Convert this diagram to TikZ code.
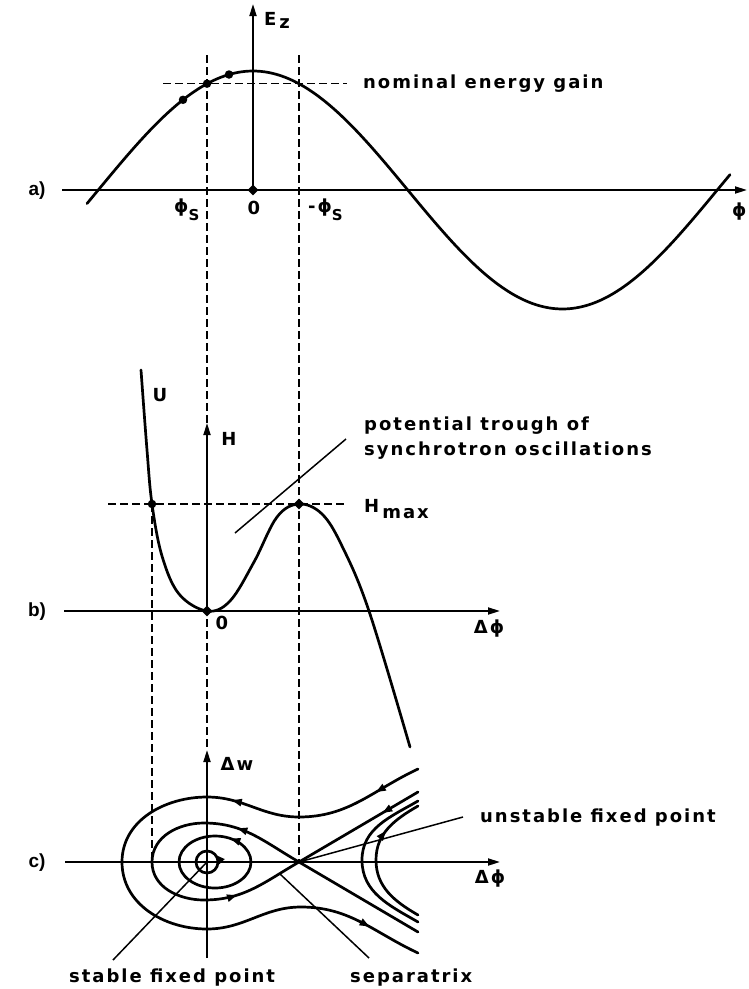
\documentclass[tikz,border=0pt]{standalone}
\usepackage{fontspec}
\setmainfont{DejaVu Sans}
\newfontfamily\lab{DejaVu Sans}[LetterSpace=11]
\newfontfamily\panfont{Liberation Sans}
\usetikzlibrary{arrows.meta,decorations.markings,shapes.geometric}
\begin{document}
\begin{tikzpicture}[x=1pt,y=1pt,
 curve/.style={line width=2.7pt,line cap=round,line join=round},
 axis/.style={line width=1.8pt,-{Triangle[length=12pt,width=7pt]}},
 guide/.style={line width=1.2pt,dash pattern=on 8pt off 4pt},
 leader/.style={line width=1.5pt},
 lbl/.style={font=\lab\bfseries\fontsize{18}{23}\selectfont,inner sep=0pt},
 sym/.style={font=\lab\bfseries\fontsize{18}{21}\selectfont,inner sep=0pt},
 panel/.style={font=\panfont\bfseries\fontsize{19}{19}\selectfont,inner sep=0pt},
 dot/.style={circle,fill,inner sep=0pt,minimum size=8.5pt},
 dia/.style={diamond,fill,inner sep=0pt,minimum size=11pt},
 flowarr/.style={postaction={decorate,decoration={markings,mark=at position #1 with {\arrow{Triangle[length=10pt,width=7pt]}}}}}
]
\fill[white] (0,0) rectangle (748,-989);
\useasboundingbox (0,0) rectangle (748,-989);

% ---------- guides ----------
\coordinate (gLt) at (207,-55);  \coordinate (gLb) at (207,-750);
\coordinate (gRt) at (299,-55);  \coordinate (gRb) at (299,-862);
\draw[guide] (gLt) -- (gLb);
\draw[guide] (gRt) -- (gRb);

% ---------- panel a ----------
\coordinate (aL) at (62,-190); \coordinate (aR) at (747,-190);
\coordinate (aB) at (253,-190); \coordinate (aT) at (253,-4);
\draw[axis] (aL) -- (aR);
\draw[axis] (aB) -- (aT);
\coordinate (nomL) at (163,-83.7); \coordinate (nomR) at (347,-83.7);
\draw[guide] (nomL) -- (nomR);
\draw[curve] plot[domain=87:730,samples=160] (\x,{-190+119*cos((\x-253)/309.5*180)});
\node[dot] (d1) at (183,-99.8) {};
\node[dot] (d2) at (207,-83.7) {};
\node[dot] (d3) at (229,-74.5) {};
\node[dia] (aO) at (253,-190) {};
\node[sym,anchor=base west] (ez) at (264,-25) {E\,\raisebox{-3pt}{z}};
\node[lbl,anchor=base west] (nom) at (363,-88) {nominal energy gain};
\node[sym,anchor=base west] (phs) at (174,-212) {ϕ\raisebox{-8pt}{\fontsize{15}{15}\selectfont S}};
\node[sym] (zeroa) at (254,-208) {0};
\node[sym,anchor=base west] (mphs) at (308,-212) {-ϕ\raisebox{-8pt}{\fontsize{15}{15}\selectfont S}};
\node[sym,anchor=base west] (phiend) at (732,-216) {ϕ};
\node[panel] (pa) at (37,-191) {a)};

% ---------- panel b ----------
\coordinate (bL) at (64,-611); \coordinate (bR) at (500,-611);
\coordinate (bB) at (207,-611); \coordinate (bT) at (207,-423);
\draw[axis] (bL) -- (bR);
\draw[axis] (bB) -- (bT);
\coordinate (hmL) at (108,-504); \coordinate (hmR) at (347,-504);
\draw[guide] (hmL) -- (hmR);
\coordinate (gSt) at (152,-504); \coordinate (gSb) at (152,-862);
\draw[guide] (gSt) -- (gSb);
\draw[curve] plot[smooth,tension=0.6] coordinates {(141,-370) (147,-450) (152,-504) (162,-556) (179,-594) (207,-611) (230,-601) (254,-562) (277,-517) (299,-504) (322,-514) (342,-546) (369,-611) (410,-747)};
\node[dot] (b1) at (152,-504) {};
\node[dia] (b2) at (299,-504) {};
\node[dia] (bO) at (207,-611) {};
\coordinate (trA) at (235,-533); \coordinate (trB) at (346,-439);
\draw[leader] (trA) -- (trB);
\node[sym] (U) at (160,-395) {U};
\node[sym] (H) at (229,-439) {H};
\node[sym] (zerob) at (222,-623) {0};
\node[sym,anchor=base west] (hmax) at (364,-512) {H\,\raisebox{-6pt}{max}};
\node[sym] (dphib) at (489,-629) {Δϕ};
\node[lbl,anchor=base west] (pot1) at (364,-430) {potential trough of};
\node[lbl,anchor=base west] (pot2) at (364,-455) {synchrotron oscillations};
\node[panel] (pb) at (37,-612) {b)};

% ---------- panel c ----------
\coordinate (cL) at (65,-862); \coordinate (cR) at (500,-862);
\coordinate (cB) at (207,-958); \coordinate (cT) at (207,-750);
\draw[axis] (cL) -- (cR);
\draw[axis] (cB) -- (cT);
\coordinate (S) at (207,-862);
\coordinate (X) at (299,-862);
% inner closed orbits
\draw[curve,flowarr=0.12] (S) circle[radius=11];
\draw[curve,flowarr=0.17] (215,-862) ellipse[x radius=36,y radius=26];
% separatrix loop
\draw[curve,flowarr=0.2,flowarr=0.8] (X) to[out=150,in=0] (204,-823) to[out=180,in=90] (152,-862) to[out=-90,in=180] (204,-900) to[out=0,in=210] (X);
% separatrix branches
\coordinate (sepU) at (418,-792); \coordinate (sepD) at (418,-932);
\draw[curve,flowarr=0.3] (sepU) -- (X);
\draw[curve] (X) -- (sepD);
% outer open orbit
\draw[curve,flowarr=0.07,flowarr=0.29,flowarr=0.92] (418,-769) to[out=205,in=0] (299,-817) to[out=180,in=0] (207,-797) to[out=180,in=90] (122,-862) to[out=-90,in=180] (207,-929) to[out=0,in=180] (301,-907) to[out=0,in=155] (418,-953);
% right open orbits
\draw[curve] (418,-922) to[out=150,in=-90] (362,-860) to[out=90,in=210] (418,-801);
\draw[curve,flowarr=0.72] (418,-915) to[out=150,in=-90] (376,-860) to[out=90,in=210] (418,-806);
% leaders
\coordinate (stL) at (113,-960);
\draw[leader] (S) -- (stL);
\coordinate (spA) at (280,-874); \coordinate (spB) at (369,-958);
\draw[leader] (spA) -- (spB);
\coordinate (unL) at (463,-817);
\draw[leader] (X) -- (unL);
\node[sym] (dw) at (237,-764) {Δw};
\node[sym] (dphic) at (490,-879) {Δϕ};
\node[lbl,anchor=base west] (unst) at (480,-822) {unstable fixed point};
\node[lbl,anchor=base west] (stab) at (69,-982) {stable fixed point};
\node[lbl,anchor=base west] (sepx) at (350,-982) {separatrix};
\node[panel] (pc) at (37,-863) {c)};
\end{tikzpicture}
\end{document}
